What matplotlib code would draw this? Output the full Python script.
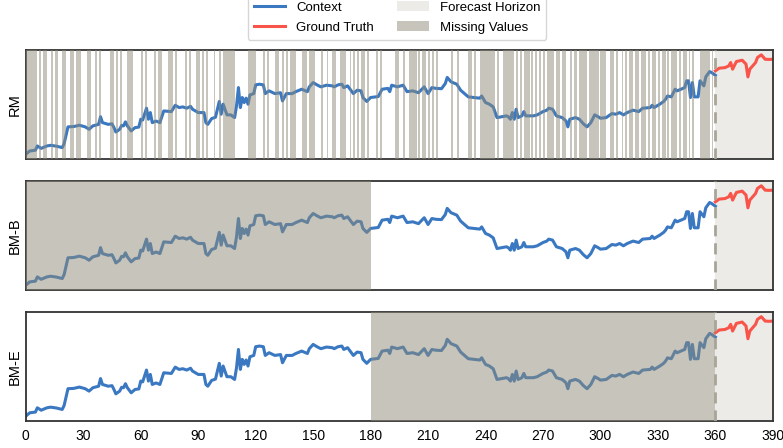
import numpy as np
import matplotlib
matplotlib.use("Agg")
import matplotlib.pyplot as plt
from matplotlib.lines import Line2D
from matplotlib.patches import Patch

plt.rcParams['font.family'] = ['Liberation Sans', 'DejaVu Sans']

# Context series (time step)
ctx_t = [0, 2, 5, 6, 8, 11, 13, 16, 19, 20, 22, 25, 28, 31, 33, 35, 38, 39, 40, 43,
         45, 46, 47, 49, 50, 51, 52, 53, 55, 57, 59, 60, 61, 63, 64, 65, 66, 68, 70, 72,
         74, 76, 78, 80, 82, 84, 86, 87, 90, 93, 94, 95, 97, 99, 100, 101, 102, 103, 105, 107,
         109, 110, 111, 112, 113, 114, 115, 116, 117, 119, 120, 122, 124, 125, 127, 130, 133, 134, 136, 139,
         141, 144, 147, 148, 150, 152, 154, 157, 160, 161, 163, 165, 166, 168, 171, 173, 175, 176, 178, 180,
         184, 186, 189, 190, 191, 194, 197, 199, 202, 205, 208, 210, 212, 214, 217, 219, 220, 222, 225, 227,
         229, 231, 234, 237, 238, 240, 242, 244, 246, 248, 251, 252, 253, 254, 255, 256, 257, 259, 260, 261,
         265, 267, 270, 272, 273, 275, 277, 279, 280, 282, 283, 284, 287, 289, 291, 293, 295, 297, 299, 300,
         303, 306, 308, 310, 312, 314, 317, 320, 322, 326, 327, 328, 331, 333, 334, 335, 337, 339, 340, 342,
         344, 345, 346, 347, 348, 349, 350, 351, 352, 354, 355, 357, 358, 360]
ctx_v = [4.6, 7.6, 8.3, 12.2, 10, 12.2, 12.8, 12, 10.7, 14.4, 29.7, 30, 31.2, 29.7, 27.5, 30.6, 32, 39, 33.6, 32,
         32.5, 29, 25, 27.5, 31, 30.6, 34.3, 30.6, 26, 29, 29.5, 36.7, 36, 46.8, 36.7, 42.8, 33.6, 35, 33.6, 44.3,
         44, 43.7, 49.5, 47.4, 48, 46.8, 48.5, 45.9, 42.8, 42.8, 33.6, 32, 37.3, 38.5, 45.9, 53, 41.3, 50.5, 40.7, 40.7,
         38.2, 49, 65.7, 47.4, 56.6, 52, 56, 50.5, 59, 60.2, 68.2, 68.8, 68.2, 60.2, 62.7, 60.2, 61, 53.5, 60.2, 60.2,
         62, 64.2, 62, 66.4, 70.3, 68.2, 66.4, 67.9, 67.3, 66.4, 68.2, 68.8, 65.7, 67.3, 60.2, 63.3, 62.7, 56.6, 53, 56.6,
         57.5, 64.2, 65, 62, 67.9, 66.4, 67.9, 62, 62.7, 61, 66.4, 60.2, 65.7, 65, 64.7, 69.4, 75, 71, 68.8, 63.3,
         60.2, 57.2, 56.6, 56, 58, 52, 50.5, 48, 38.2, 38.8, 39.8, 38.8, 36.7, 42.8, 36.7, 45.9, 38.2, 39.8, 43.7, 39.8,
         39.8, 40.7, 43.7, 45, 46.8, 45.9, 39.8, 38.8, 38.2, 35.2, 29.7, 36.7, 38.2, 36.7, 32.7, 29.7, 33.6, 40.7, 38.8, 37.6,
         38.2, 41.9, 41.3, 42.8, 40.7, 42.8, 45, 43.7, 46.8, 47.4, 49.5, 47.4, 50.5, 53, 55, 58, 57.2, 64.2, 62.7, 64.2,
         65.7, 71.9, 71.9, 56.6, 70.3, 57.2, 57.2, 57.2, 71.9, 67.3, 75.5, 80.4, 79.5, 77]

# Ground truth over the forecast horizon
gt_t = [360, 362, 365, 367, 368, 369, 371, 374, 376, 377, 378, 381, 382, 384, 386, 388, 390]
gt_v = [81, 83.5, 84, 85.6, 88.7, 82.6, 89.6, 90.8, 87.2, 75.5, 82.6, 88.7, 93.3, 95.7, 91.7, 91.5, 91.7]

# Missing-value runs (first, last time step) for random missing
rm_runs = [(0, 5), (7, 7), (9, 10), (13, 13), (15, 16), (19, 20), (23, 24), (26, 28), (32, 33), (36, 36),
           (38, 38), (44, 45), (47, 47), (49, 49), (53, 55), (60, 60), (62, 62), (67, 67), (69, 70), (74, 76),
           (78, 78), (83, 83), (85, 85), (89, 90), (92, 92), (94, 94), (98, 98), (101, 101), (103, 108),
           (116, 119), (124, 124), (126, 126), (130, 131), (134, 134), (136, 136), (138, 140), (144, 146),
           (148, 150), (154, 154), (157, 157), (160, 161), (164, 166), (169, 169), (171, 171), (173, 173),
           (175, 176), (178, 178), (183, 183), (185, 185), (193, 194), (197, 197), (200, 203), (205, 205),
           (207, 208), (210, 210), (212, 212), (214, 214), (222, 222), (225, 225), (231, 232), (234, 234),
           (237, 244), (246, 246), (249, 254), (256, 256), (258, 258), (260, 262), (264, 264), (266, 266),
           (268, 268), (270, 270), (272, 275), (277, 278), (280, 281), (284, 284), (286, 287), (289, 292),
           (294, 298), (300, 302), (305, 306), (308, 308), (311, 311), (313, 313), (315, 316), (318, 319),
           (321, 323), (325, 325), (327, 328), (330, 330), (332, 333), (335, 335), (337, 339), (341, 341),
           (343, 344), (346, 346), (348, 348), (352, 356), (358, 358)]
bmb_runs = [(0, 179)]
bme_runs = [(180, 359)]

panel_names = ["RM", "BM-B", "BM-E"]
panel_runs = [rm_runs, bmb_runs, bme_runs]
xticks = list(range(0, 391, 30))

ctx_color = "#3a78c2"
gt_color = "#f8544a"
miss_color = "#8f8a78"
horizon = 360

fig, axes = plt.subplots(3, 1, figsize=(7.83, 4.48), dpi=100, sharex=True)
fig.subplots_adjust(left=0.033, right=0.987, bottom=0.06, top=0.888, hspace=0.2)

for ax, name, runs in zip(axes, panel_names, panel_runs):
    ax.plot(ctx_t, ctx_v, color=ctx_color, lw=2.2, zorder=2)
    ax.plot(gt_t, gt_v, color=gt_color, lw=2.2, zorder=2)
    ax.axvspan(horizon, 390, color=miss_color, alpha=0.17, lw=0, zorder=0)
    for s, e in runs:
        ax.axvspan(s, e + 1, color=miss_color, alpha=0.5, lw=0, zorder=3)
    ax.axvline(horizon, color="#a8a598", lw=2, ls=(0, (4, 2.5)), zorder=4)
    ax.set_xlim(0, 390)
    ax.set_ylim(0, 100)
    ax.set_yticks([])
    ax.set_ylabel(name, fontsize=10.5)
    ax.yaxis.labelpad = 3
    for sp in ax.spines.values():
        sp.set_color("#333333")
        sp.set_linewidth(1.3)
    ax.tick_params(axis="x", length=0, labelsize=10, pad=6)

axes[-1].set_xticks(xticks)

handles = [Line2D([0], [0], color=ctx_color, lw=2.2),
           Line2D([0], [0], color=gt_color, lw=2.2),
           Patch(facecolor=miss_color, alpha=0.17, edgecolor="none"),
           Patch(facecolor=miss_color, alpha=0.5, edgecolor="none")]
labels = ["Context", "Ground Truth", "Forecast Horizon", "Missing Values"]
fig.legend(handles, labels, loc="upper center", bbox_to_anchor=(0.507, 1.025), ncol=2,
           fontsize=9.5, frameon=True, handlelength=2.4, columnspacing=1.8,
           labelspacing=0.6, borderpad=0.45)

fig.savefig("out.png", dpi=100)
